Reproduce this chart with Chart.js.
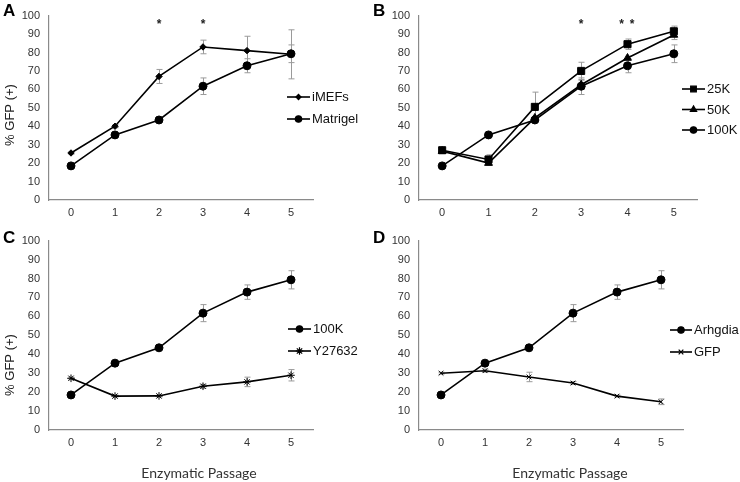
<!DOCTYPE html>
<html>
<head>
<meta charset="utf-8">
<script src="https://cdn.jsdelivr.net/npm/chart.js@4.4.1/dist/chart.umd.min.js"></script>
<style>
  body { margin: 0; background: #fff; }
  #wrap { position: relative; width: 740px; height: 482px; }
  .panel { position: absolute; }
</style>
</head>
<body>
<div id="wrap">
  <div class="panel" style="left:0;top:0;width:370px;height:225px"><canvas id="chartA"></canvas></div>
  <div class="panel" style="left:370px;top:0;width:370px;height:225px"><canvas id="chartB"></canvas></div>
  <div class="panel" style="left:0;top:225px;width:370px;height:257px"><canvas id="chartC"></canvas></div>
  <div class="panel" style="left:370px;top:225px;width:370px;height:257px"><canvas id="chartD"></canvas></div>
</div>
<script>
// Datos
const passages = ['0', '1', '2', '3', '4', '5'];

// Panel A
const iMEFs = [25.5, 40, 67, 83, 81, 79];
const iMEFsErr = [0.6, 0.8, 3.8, 3.7, 7.8, 13.3];
const matrigel = [18.5, 35.3, 43.4, 61.7, 72.8, 79.3];
const matrigelErr = [0.6, 0.8, 0.8, 4.5, 3.8, 4.8];
const starsA = [2, 3];

// Panel B
const k25 = [27, 22, 50.5, 70, 84.5, 91.5];
const k25Err = [0.6, 2.5, 8, 4.7, 2.8, 2.8];
const k50 = [26.5, 20, 44.5, 62.5, 77, 89.5];
const k50Err = [0.6, 1, 1, 2.5, 1, 2.5];
const k100 = [18.5, 35.3, 43.4, 61.7, 72.8, 79.3];
const k100Err = [0.6, 0.8, 0.8, 4.5, 3.8, 4.8];
const starsB = [3, 3.87, 4.1];

// Panel C
const y27632 = [27.3, 17.9, 18, 23.1, 25.4, 28.9];
const y27632Err = [0.5, 0.5, 0.5, 1, 2.5, 3];

// Panel D
const arhgdia = [18.5, 35.3, 43.4, 61.7, 72.8, 79.3];
const arhgdiaErr = [0.6, 0.8, 0.8, 4.5, 3.8, 4.8];
const gfp = [30, 31.3, 28, 24.8, 17.9, 14.9];
const gfpErr = [0.5, 0.8, 2.5, 0.8, 0.5, 1.5];

const FONT = '"Liberation Sans", Arial, sans-serif';

// Barras de error grises debajo de los puntos
const errorBars = {
  id: 'errorBars',
  beforeDatasetsDraw(chart) {
    const ctx = chart.ctx, xs = chart.scales.x, ys = chart.scales.y;
    ctx.save();
    ctx.strokeStyle = '#9a9a9a';
    ctx.lineWidth = 1;
    chart.data.datasets.forEach(ds => {
      if (!ds.errors) return;
      ds.data.forEach((v, i) => {
        const e = ds.errors[i];
        if (!e) return;
        const px = Math.round(xs.getPixelForValue(i)) + 0.5;
        const top = ys.getPixelForValue(v + e), bot = ys.getPixelForValue(v - e);
        ctx.beginPath();
        ctx.moveTo(px, top); ctx.lineTo(px, bot);
        ctx.moveTo(px - 3, top); ctx.lineTo(px + 3, top);
        ctx.moveTo(px - 3, bot); ctx.lineTo(px + 3, bot);
        ctx.stroke();
      });
    });
    ctx.restore();
  }
};

// Letra del panel, titulos, asteriscos y leyenda
function makeDeco(cfg) {
  return {
    id: 'deco',
    afterDraw(chart) {
      const ctx = chart.ctx, xs = chart.scales.x, ys = chart.scales.y;
      ctx.save();
      ctx.fillStyle = '#000';
      ctx.textBaseline = 'middle';
      ctx.font = 'bold 17px ' + FONT;
      ctx.textAlign = 'left';
      ctx.fillText(cfg.letter, 3, cfg.letterY);

      if (cfg.yTitle) {
        ctx.save();
        ctx.translate(cfg.yTitle.x, cfg.yTitle.y);
        ctx.rotate(-Math.PI / 2);
        ctx.textAlign = 'center';
        ctx.font = '13px ' + FONT;
        ctx.fillStyle = '#222';
        ctx.fillText(cfg.yTitle.text, 0, 0);
        ctx.restore();
      }
      if (cfg.xTitle) {
        ctx.textAlign = 'center';
        ctx.font = '14px Lato, "Open Sans", sans-serif';
        ctx.fillStyle = '#333';
        ctx.fillText(cfg.xTitle.text, cfg.xTitle.x, cfg.xTitle.y);
      }
      if (cfg.stars) {
        ctx.textAlign = 'center';
        ctx.font = 'bold 12px ' + FONT;
        ctx.fillStyle = '#222';
        cfg.stars.forEach(s => {
          ctx.fillText('*', xs.getPixelForValue(s), ys.getPixelForValue(95.2));
        });
      }
      // Leyenda: linea + marcador + texto
      const lg = cfg.legend;
      chart.data.datasets.forEach((ds, i) => {
        const yy = lg.y + i * lg.gap;
        ctx.strokeStyle = '#000';
        ctx.lineWidth = 1.6;
        ctx.beginPath();
        ctx.moveTo(lg.x, yy); ctx.lineTo(lg.x + lg.len, yy);
        ctx.stroke();
        ctx.fillStyle = '#000';
        ctx.lineWidth = 1.2;
        const lineOnly = ds.pointStyle === 'star' || ds.pointStyle === 'crossRot';
        Chart.helpers.drawPoint(ctx, {
          pointStyle: ds.pointStyle,
          radius: lineOnly ? ds.pointRadius : ds.pointRadius * 0.8,
          rotation: 0,
          borderWidth: 1.2
        }, lg.x + lg.len / 2, yy);
        ctx.fillStyle = '#111';
        ctx.textAlign = 'left';
        ctx.font = '13px ' + FONT;
        ctx.fillText(ds.label, lg.x + lg.len + 2, yy + 0.5);
      });
      ctx.restore();
    }
  };
}

function serie(label, data, errors, pointStyle, pointRadius) {
  return {
    label: label,
    data: data,
    errors: errors,
    borderColor: '#000',
    backgroundColor: '#000',
    pointBackgroundColor: '#000',
    pointBorderColor: '#000',
    borderWidth: 1.6,
    pointStyle: pointStyle,
    pointRadius: pointRadius,
    pointBorderWidth: 1,
    tension: 0
  };
}

function makeChart(id, datasets, deco, pad, xHeight) {
  return new Chart(document.getElementById(id), {
    type: 'line',
    data: { labels: passages, datasets: datasets },
    options: {
      responsive: true,
      maintainAspectRatio: false,
      animation: false,
      layout: { padding: pad },
      plugins: { legend: { display: false }, tooltip: { enabled: false } },
      scales: {
        x: {
          offset: true,
          grid: { display: false, drawTicks: false },
          border: { display: true, color: '#8a8a8a', width: 1.2 },
          ticks: { color: '#333', font: { family: FONT, size: 11 }, padding: 6 },
          afterFit: s => { s.height = xHeight; }
        },
        y: {
          min: 0, max: 100,
          grid: { display: false, drawTicks: false },
          border: { display: true, color: '#8a8a8a', width: 1.2 },
          ticks: { stepSize: 10, color: '#333', font: { family: FONT, size: 11 }, padding: 9 },
          afterFit: s => { s.width = 49; }
        }
      }
    },
    plugins: [errorBars, makeDeco(deco)]
  });
}

makeChart('chartA', [
  serie('iMEFs', iMEFs, iMEFsErr, 'rectRot', 3.2),
  serie('Matrigel', matrigel, matrigelErr, 'circle', 4)
], {
  letter: 'A', letterY: 11,
  yTitle: { text: '% GFP (+)', x: 10, y: 115 },
  stars: starsA,
  legend: { x: 287, y: 97, gap: 22, len: 23 }
}, { left: 0, right: 57, top: 7, bottom: 0 }, 25);

makeChart('chartB', [
  serie('25K', k25, k25Err, 'rect', 5),
  serie('50K', k50, k50Err, 'triangle', 4.5),
  serie('100K', k100, k100Err, 'circle', 4)
], {
  letter: 'B', letterY: 11,
  stars: starsB,
  legend: { x: 312, y: 89, gap: 20.5, len: 23 }
}, { left: 0, right: 43, top: 7, bottom: 0 }, 25);

makeChart('chartC', [
  serie('100K', k100, k100Err, 'circle', 4),
  serie('Y27632', y27632, y27632Err, 'star', 3.8)
], {
  letter: 'C', letterY: 13,
  yTitle: { text: '% GFP (+)', x: 10, y: 140 },
  xTitle: { text: 'Enzymatic Passage', x: 199, y: 248 },
  legend: { x: 288, y: 104, gap: 22, len: 23 }
}, { left: 0, right: 57, top: 13, bottom: 0 }, 52);

makeChart('chartD', [
  serie('Arhgdia', arhgdia, arhgdiaErr, 'circle', 4),
  serie('GFP', gfp, gfpErr, 'crossRot', 3.3)
], {
  letter: 'D', letterY: 13,
  xTitle: { text: 'Enzymatic Passage', x: 200, y: 248 },
  legend: { x: 300, y: 105, gap: 22, len: 22 }
}, { left: 0, right: 57, top: 13, bottom: 0 }, 52);
</script>
</body>
</html>
